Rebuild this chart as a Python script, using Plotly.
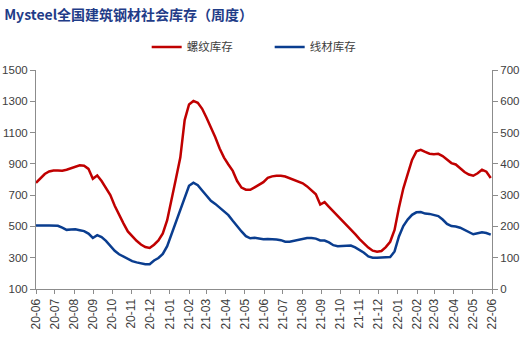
import pandas as pd
import plotly.graph_objects as go

# Weekly dates (Thursdays)
dates = pd.date_range("2020-06-04", periods=105, freq="7D")

rebar = [779, 807, 835, 851, 857, 858, 856, 862, 873, 881, 891, 888, 868, 805, 826,
         790, 748, 700, 632, 573, 520, 468, 437, 408, 384, 368, 362, 383, 411, 455,
         540, 665, 805, 940, 1180, 1280, 1302, 1290, 1252, 1195, 1135, 1070, 998, 940, 896,
         855, 790, 748, 735, 734, 750, 765, 783, 810, 820, 824, 824, 819, 808, 795,
         785, 776, 756, 733, 706, 640, 655, 625, 596, 568, 543, 512, 482, 451, 419,
         391, 365, 345, 338, 343, 368, 402, 478, 620, 742, 834, 925, 980, 990, 976,
         965, 962, 964, 950, 928, 905, 896, 872, 848, 832, 824, 840, 862, 850, 810]

wire = [203, 204, 203, 203, 203, 202, 196, 189, 190, 191, 188, 185, 177, 163, 172,
        166, 154, 138, 122, 111, 104, 96, 89, 85, 82, 79, 79, 91, 99, 112,
        137, 175, 216, 250, 290, 330, 340, 332, 315, 297, 282, 272, 260, 246, 236,
        218, 199, 184, 169, 162, 164, 162, 159, 160, 160, 158, 156, 151, 151, 154,
        158, 161, 163, 163, 161, 155, 155, 149, 140, 137, 138, 140, 139, 133, 125,
        116, 104, 100, 100, 100, 100, 102, 120, 168, 201, 222, 237, 245, 246, 241,
        240, 237, 233, 222, 208, 201, 200, 196, 189, 180, 175, 178, 181, 179, 174]

series_names = ["螺纹库存", "线材库存"]
title_text = "Mysteel全国建筑钢材社会库存（周度）"

tick_dates = pd.date_range("2020-06-01", "2022-06-01", freq="MS") + pd.Timedelta(days=3)
tick_labels = [d.strftime("%y-%m") for d in tick_dates]

fig = go.Figure()
fig.add_trace(go.Scatter(x=dates, y=rebar, name=series_names[0], mode="lines",
                         line=dict(color="#C00000", width=2.5), yaxis="y"))
fig.add_trace(go.Scatter(x=dates, y=wire, name=series_names[1], mode="lines",
                         line=dict(color="#0A3D8F", width=2.5), yaxis="y2"))

axis_color = "#8C8C8C"
xtick_font = dict(family="Liberation Sans, Arial", size=12, color="#404040")
ytick_font = dict(family="Liberation Sans, Arial", size=11.5, color="#404040")

fig.update_layout(
    width=522, height=340,
    margin=dict(l=36, r=30, t=70, b=51),
    paper_bgcolor="white", plot_bgcolor="white",
    title=dict(text="<b>" + title_text + "</b>", x=0.008, xanchor="left", y=0.955, yanchor="middle",
               xref="container", yref="container",
               font=dict(family="Noto Sans CJK SC", size=14, color="#1F3C88")),
    showlegend=True,
    legend=dict(orientation="h", x=0.281, xanchor="left", y=0.862, yanchor="middle",
                xref="container", yref="container",
                font=dict(family="Noto Sans CJK SC", size=11.5, color="#404040"),
                entrywidth=78, traceorder="normal"),
    xaxis=dict(type="date", range=[pd.Timestamp("2020-06-04"), pd.Timestamp("2022-06-04")],
               tickvals=list(tick_dates), ticktext=tick_labels, tickangle=-90,
               showline=True, linecolor=axis_color, linewidth=1, automargin=False,
               ticks="outside", ticklen=4, tickcolor=axis_color,
               showgrid=False, zeroline=False, tickfont=xtick_font),
    yaxis=dict(range=[100, 1500], tick0=100, dtick=200, automargin=False,
               showline=True, linecolor=axis_color, linewidth=1,
               ticks="outside", ticklen=5, tickcolor=axis_color,
               showgrid=False, zeroline=False, tickfont=ytick_font),
    yaxis2=dict(range=[0, 700], tick0=0, dtick=100, overlaying="y", side="right",
                showline=True, linecolor=axis_color, linewidth=1, automargin=False,
                ticks="outside", ticklen=5, tickcolor=axis_color,
                showgrid=False, zeroline=False, tickfont=ytick_font),
)

fig.write_html("out.html")
